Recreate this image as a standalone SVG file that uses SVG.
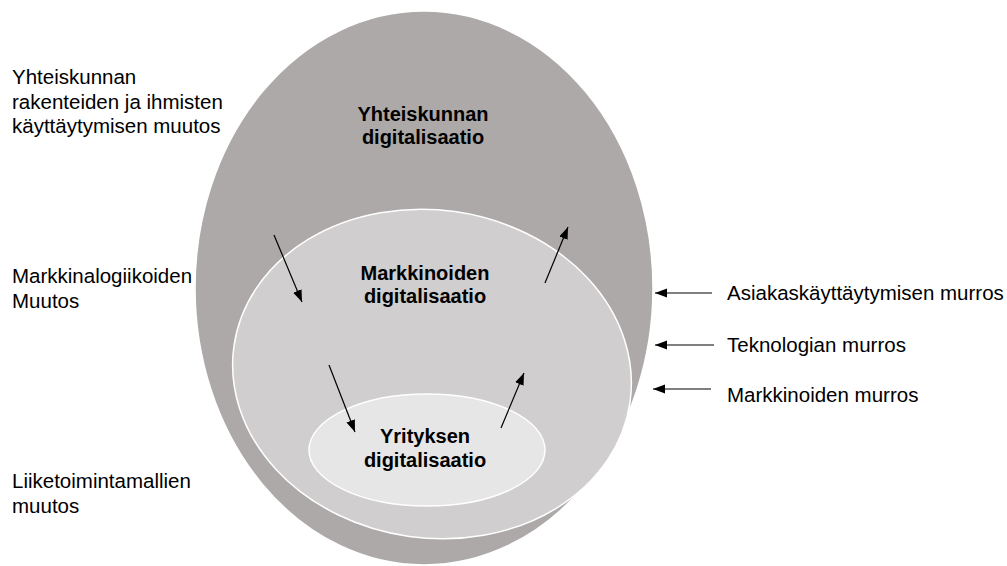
<svg xmlns="http://www.w3.org/2000/svg" width="1007" height="566" viewBox="0 0 1007 566">
  <style>
    .lbl { font-family: "Liberation Sans", Arial, sans-serif; font-size: 20.5px; fill: #000; }
    .ttl { font-family: "Liberation Sans", Arial, sans-serif; font-size: 20px; font-weight: bold; fill: #000; text-anchor: middle; }
    .conn { stroke: #000; stroke-width: 1.2; fill: none; marker-end: url(#head); }
    .ring { stroke: #fff; stroke-width: 1.5; }
  </style>
  <defs>
    <marker id="head" markerUnits="userSpaceOnUse" markerWidth="13" markerHeight="10" refX="12" refY="5" orient="auto">
      <path d="M0,0.5 L12,5 L0,9.5 Z" fill="#000"/>
    </marker>
  </defs>

  <rect width="1007" height="566" fill="#fff"/>

  <!-- nested levels -->
  <g id="yhteiskunta">
    <ellipse class="ring" cx="424" cy="288" rx="229" ry="277" fill="#ADA9A8"/>
    <text class="ttl" x="423" y="121">Yhteiskunnan</text>
    <text class="ttl" x="423" y="144">digitalisaatio</text>
  </g>
  <g id="markkinat">
    <ellipse class="ring" cx="0" cy="0" rx="200" ry="164" fill="#D0CECE" transform="translate(432 374) rotate(8)"/>
    <text class="ttl" x="425" y="280">Markkinoiden</text>
    <text class="ttl" x="425" y="303">digitalisaatio</text>
  </g>
  <g id="yritys">
    <ellipse class="ring" cx="427" cy="450" rx="118" ry="56" fill="#E6E6E6"/>
    <text class="ttl" x="425" y="443">Yrityksen</text>
    <text class="ttl" x="425" y="467">digitalisaatio</text>
  </g>

  <!-- change labels, left -->
  <g id="muutos-yhteiskunta">
    <text class="lbl" x="12" y="84">Yhteiskunnan</text>
    <text class="lbl" x="12" y="109">rakenteiden ja ihmisten</text>
    <text class="lbl" x="12" y="133">käyttäytymisen muutos</text>
  </g>
  <g id="muutos-markkina">
    <text class="lbl" x="12" y="283">Markkinalogiikoiden</text>
    <text class="lbl" x="12" y="308">Muutos</text>
  </g>
  <g id="muutos-liiketoiminta">
    <text class="lbl" x="12" y="488">Liiketoimintamallien</text>
    <text class="lbl" x="12" y="513">muutos</text>
  </g>

  <!-- drivers, right -->
  <g id="ajuri-asiakas">
    <text class="lbl" x="727" y="300">Asiakaskäyttäytymisen murros</text>
  </g>
  <g id="ajuri-teknologia">
    <text class="lbl" x="727" y="352">Teknologian murros</text>
  </g>
  <g id="ajuri-markkinat">
    <text class="lbl" x="727" y="402">Markkinoiden murros</text>
  </g>

  <g id="connectors">
    <line class="conn" x1="274" y1="235" x2="302" y2="302"/>
    <line class="conn" x1="545" y1="283" x2="568" y2="227"/>
    <line class="conn" x1="329" y1="365" x2="355" y2="432"/>
    <line class="conn" x1="501" y1="428" x2="524" y2="373"/>
    <line class="conn" x1="712" y1="293" x2="655" y2="293"/>
    <line class="conn" x1="714" y1="345" x2="655" y2="345"/>
    <line class="conn" x1="711" y1="389" x2="653" y2="389"/>
  </g>
</svg>
